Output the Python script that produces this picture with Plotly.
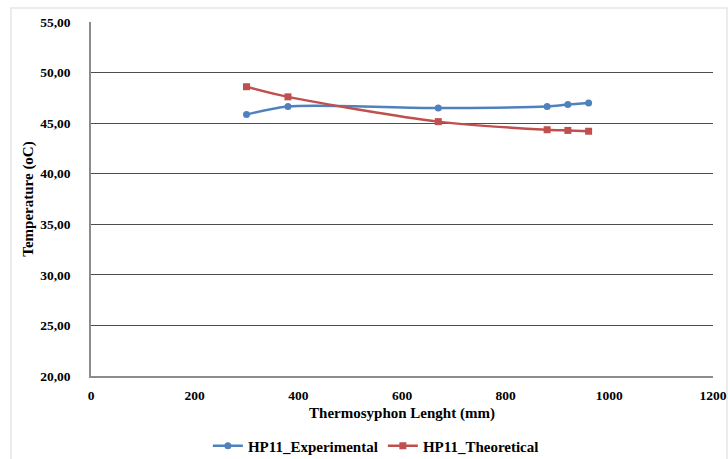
import plotly.graph_objects as go

length_exp = [300, 380, 670, 880, 920, 960]
temp_exp = [45.85, 46.65, 46.5, 46.65, 46.85, 47.0]
length_theo = [300, 380, 670, 880, 920, 960]
temp_theo = [48.6, 47.6, 45.15, 44.35, 44.28, 44.2]
y_ticks = [20, 25, 30, 35, 40, 45, 50, 55]
x_ticks = [0, 200, 400, 600, 800, 1000, 1200]

FONT = "Liberation Serif"
BLUE = "#4F81BD"
RED = "#C0504D"

fig = go.Figure()
fig.add_trace(go.Scatter(
    x=length_exp, y=temp_exp, name="<b>HP11_Experimental</b>",
    mode="lines+markers", line=dict(color=BLUE, width=2.5, shape="spline", smoothing=0.8),
    marker=dict(symbol="circle", size=7, color=BLUE)))
fig.add_trace(go.Scatter(
    x=length_theo, y=temp_theo, name="<b>HP11_Theoretical</b>",
    mode="lines+markers", line=dict(color=RED, width=2.5, shape="spline", smoothing=0.8),
    marker=dict(symbol="square", size=7, color=RED)))

fig.update_layout(
    width=728, height=459,
    margin=dict(l=91, r=15, t=22, b=83, autoexpand=False),
    paper_bgcolor="white", plot_bgcolor="white",
    separators=",.",
    font=dict(family=FONT, size=13, color="black"),
    showlegend=True,
    legend=dict(orientation="h", x=0.458, y=-0.198, xanchor="center", yanchor="middle",
                font=dict(family=FONT, size=15, color="black"), itemwidth=30,
                tracegroupgap=0),
    shapes=[dict(type="rect", xref="paper", yref="paper",
                 x0=(11 - 91) / 622, x1=(727 - 91) / 622,
                 y0=(376 - 470) / 354, y1=(376 - 8) / 354,
                 line=dict(color="#e6e6e6", width=1.5), fillcolor="rgba(0,0,0,0)", layer="below")],
)

fig.update_xaxes(
    range=[0, 1200], tickvals=x_ticks, tickformat="d", automargin=False,
    showgrid=False, zeroline=False,
    showline=True, linecolor="#8c8c8c", linewidth=1.5,
    ticks="", tickfont=dict(family=FONT, size=13.5, color="black", weight="bold"),
    ticklabelstandoff=6,
    title=dict(text="<b>Thermosyphon Lenght (mm)</b>", font=dict(family=FONT, size=15, color="black"), standoff=6),
)
fig.update_yaxes(
    range=[20, 55], tickvals=y_ticks, tickformat=".2f", automargin=False,
    showgrid=True, gridcolor="#4d4d4d", gridwidth=1,
    zeroline=False,
    showline=True, linecolor="#8c8c8c", linewidth=1.5, mirror=False,
    ticks="", tickfont=dict(family=FONT, size=13.5, color="black", weight="bold"),
    ticklabelstandoff=16,
    title=dict(text="<b>Temperature (oC)</b>", font=dict(family=FONT, size=15, color="black"), standoff=3),
)

fig.write_html("out.html", config={"displayModeBar": False},
               post_script="document.body.style.margin='0';document.body.style.overflow='hidden';")
